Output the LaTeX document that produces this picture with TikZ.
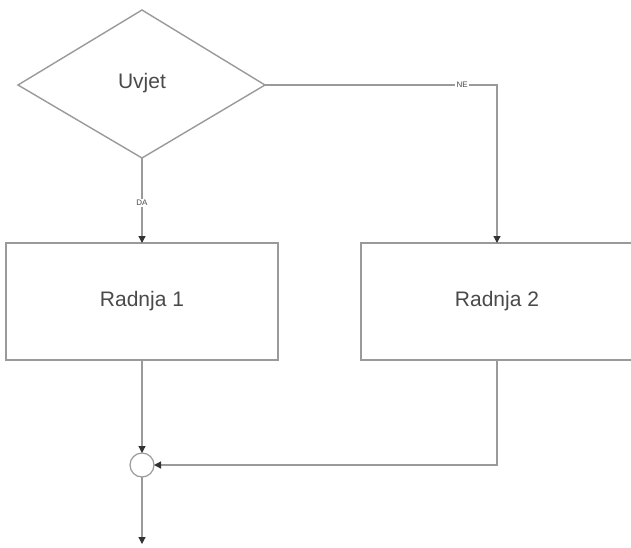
\documentclass[tikz,border=0pt]{standalone}
\usepackage{fontspec}
\setmainfont{Liberation Sans}
\usetikzlibrary{shapes.geometric,arrows.meta}
\definecolor{linegray}{HTML}{9A9A9A}
\definecolor{textgray}{HTML}{4A4A4A}
\begin{document}
\begin{tikzpicture}[x=1pt,y=-1pt,
  every node/.style={inner sep=0pt,outer sep=0pt},
  shapeline/.style={draw=linegray,line width=1.4pt},
  conn/.style={draw=linegray,line width=1.2pt},
  tip/.style={-{Triangle[length=7pt,width=7pt,color=black!80]}},
  bigtext/.style={font=\fontsize{21}{24}\selectfont,text=textgray},
  smalltext/.style={font=\fontsize{8}{9}\selectfont,text=textgray,fill=white,inner sep=1.5pt}]
\useasboundingbox (0,0) rectangle (631,547);
\clip (0,0) rectangle (631,547);
\fill[white] (0,0) rectangle (631,547);
% decision diamond
\coordinate (dT) at (142,10);
\coordinate (dL) at (18,85);
\coordinate (dR) at (265,85);
\coordinate (dB) at (142,158);
\draw[shapeline] (dT) -- (dR) -- (dB) -- (dL) -- cycle;
\node[bigtext] (uvjet) at (142,83) {Uvjet};
% boxes
\draw[shapeline] (6,243) rectangle (278,360);
\node[bigtext] (r1) at (142,301) {Radnja 1};
\coordinate (b1T) at (142,243);
\coordinate (b1B) at (142,360);
\draw[shapeline] (361,243) rectangle (650,360);
\node[bigtext] (r2) at (497,301) {Radnja 2};
\coordinate (b2T) at (497,243);
\coordinate (b2B) at (497,360);
% junction
\node[circle,draw=linegray,line width=1.2pt,minimum size=24pt,fill=white] (j) at (142,465) {};
\coordinate (out) at (142,544);
% connectors
\draw[conn,tip] (dB) -- node[smalltext,pos=0.53] (da) {DA} (b1T);
\draw[conn,tip] (dR) -- node[smalltext,pos=0.85] (ne) {NE} (497,85) -- (b2T);
\draw[conn,tip] (b1B) -- (j.north);
\draw[conn,tip] (b2B) |- (j.east);
\draw[conn,tip] (j.south) -- (out);
\end{tikzpicture}
\end{document}
